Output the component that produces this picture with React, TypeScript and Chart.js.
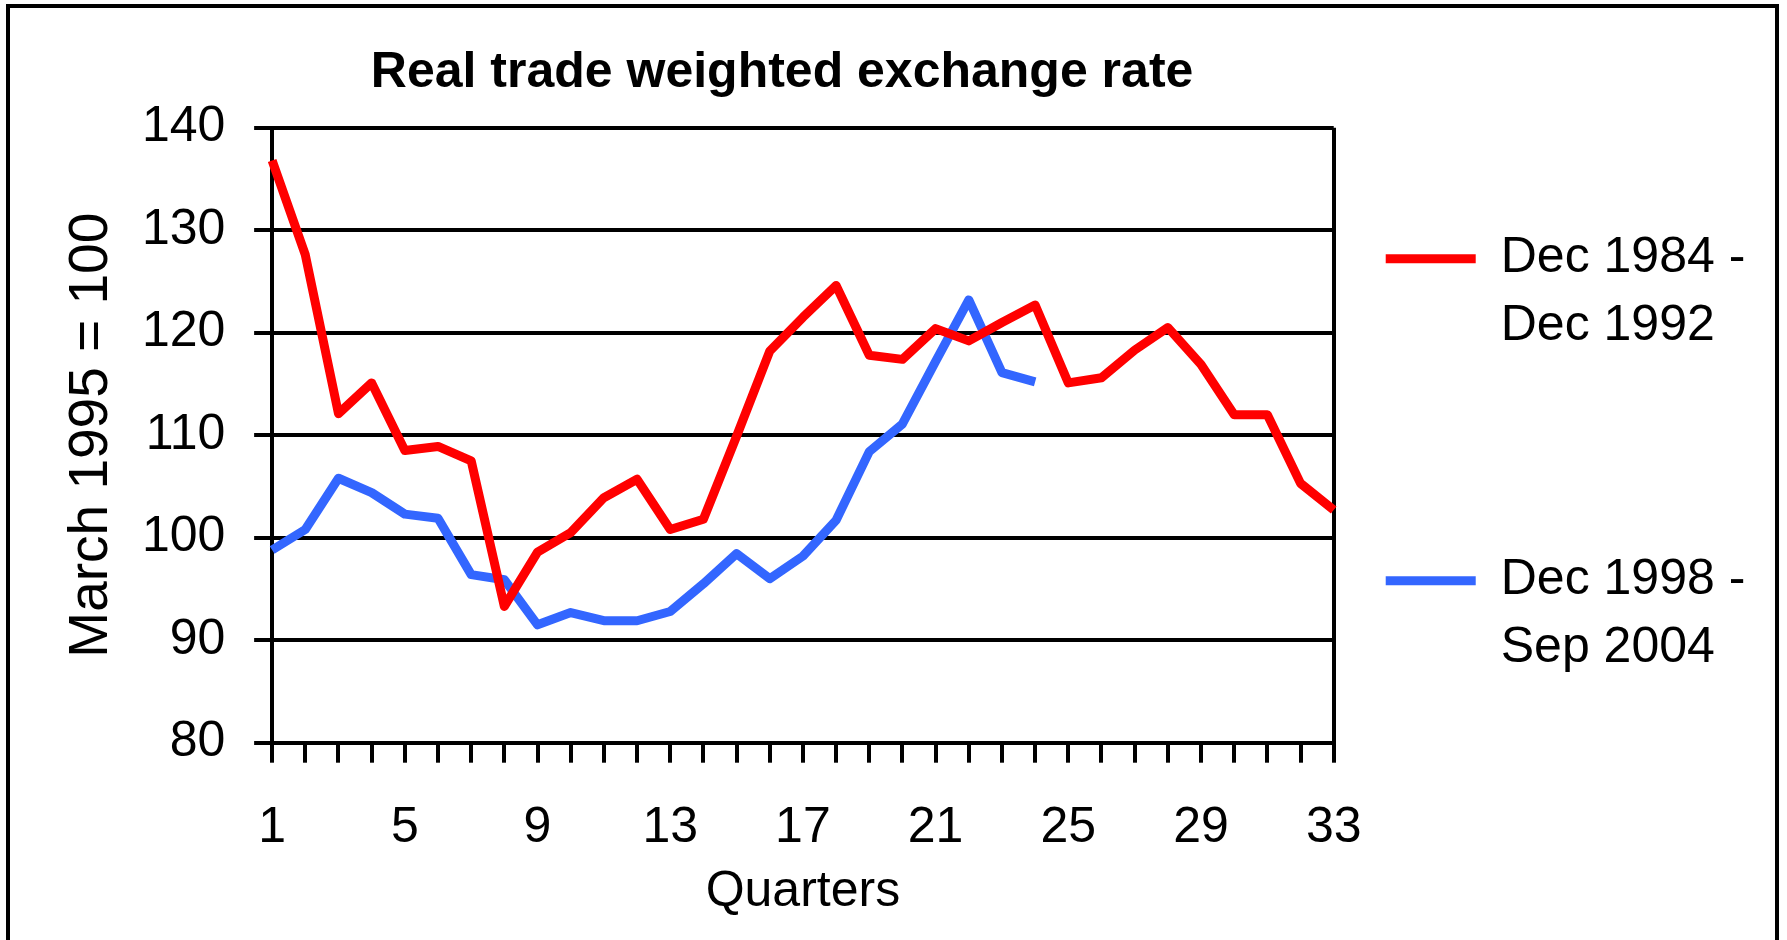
import React, { useEffect, useRef } from "react";
import { Chart, registerables } from "chart.js";

Chart.register(...registerables);

const titleText = "Real trade weighted exchange rate   ";
const yAxisTitle = "March 1995 = 100";
const xAxisTitle = "Quarters";

const quarters = [
  "1", "2", "3", "4", "5", "6", "7", "8", "9", "10", "11",
  "12", "13", "14", "15", "16", "17", "18", "19", "20", "21", "22",
  "23", "24", "25", "26", "27", "28", "29", "30", "31", "32", "33",
];
const shownQuarterLabels = ["1", "5", "9", "13", "17", "21", "25", "29", "33"];

const seriesAName = "Dec 1984 - Dec 1992";
const seriesALegend = ["Dec 1984 -", "Dec 1992", "", ""];
const seriesA = [
  136.8, 127.6, 112.1, 115.1, 108.5, 108.9, 107.5, 93.3, 98.6, 100.5, 103.9,
  105.7, 100.8, 101.8, 109.9, 118.2, 121.5, 124.6, 117.8, 117.4, 120.4, 119.2,
  121.0, 122.7, 115.1, 115.6, 118.3, 120.5, 116.9, 112.0, 112.0, 105.3, 102.7,
];

const seriesBName = "Dec 1998 - Sep 2004";
const seriesBLegend = ["Dec 1998 -", "Sep 2004"];
const seriesB = [
  98.8, 100.8, 105.8, 104.4, 102.3, 101.9, 96.4, 95.9, 91.5, 92.7, 91.9, 91.9,
  92.8, 95.5, 98.45, 96.0, 98.2, 101.7, 108.4, 111.1, 117.2, 123.2, 116.1, 115.2,
];

const yMin = 80;
const yMax = 140;
const yStep = 10;

const FONT = "'Liberation Sans', Arial, Helvetica, sans-serif";

export default function App() {
  const canvasRef = useRef<HTMLCanvasElement | null>(null);

  useEffect(() => {
    const canvas = canvasRef.current;
    if (!canvas) return;
    Chart.defaults.font.family = FONT;
    Chart.defaults.color = "#000";
    const legendTexts = [seriesALegend, seriesBLegend];
    const lastIndex = quarters.length - 1;

    const chart = new Chart(canvas, {
      type: "line",
      data: {
        labels: quarters,
        datasets: [
          {
            label: seriesAName,
            data: seriesA,
            borderColor: "#FF0000",
            backgroundColor: "#FF0000",
            borderWidth: 9,
            pointRadius: 0,
            pointHoverRadius: 0,
            tension: 0,
            fill: false,
            borderJoinStyle: "round",
          },
          {
            label: seriesBName,
            data: seriesB,
            borderColor: "#3366FF",
            backgroundColor: "#3366FF",
            borderWidth: 9,
            pointRadius: 0,
            pointHoverRadius: 0,
            tension: 0,
            fill: false,
            borderJoinStyle: "round",
          },
        ],
      },
      options: {
        responsive: false,
        animation: false,
        events: [],
        layout: { padding: { top: 0, left: 0, right: 19.7, bottom: 17.3 } },
        plugins: {
          tooltip: { enabled: false },
          title: {
            display: true,
            text: titleText,
            fullSize: false,
            color: "#000",
            font: { family: FONT, size: 50, weight: "bold", lineHeight: 1.2 },
            padding: { top: 35.5, bottom: 24.2 },
          },
          legend: {
            display: true,
            position: "right",
            align: "end",
            fullSize: false,
            labels: {
              usePointStyle: true,
              pointStyle: "line",
              pointStyleWidth: 90,
              boxHeight: 50,
              padding: 52,
              color: "#000",
              font: { family: FONT, size: 50, lineHeight: 1.35 },
              generateLabels: (c: any) => {
                const items = (Chart.defaults.plugins.legend.labels as any).generateLabels(c);
                return items.map((it: any, i: number) => ({
                  ...it,
                  text: legendTexts[i],
                  lineWidth: 9,
                  lineCap: "butt",
                }));
              },
            },
          },
        },
        scales: {
          x: {
            type: "category",
            offset: false,
            ticks: {
              autoSkip: false,
              maxRotation: 0,
              minRotation: 0,
              color: "#000",
              padding: 36,
              font: { family: FONT, size: 50 },
              callback: (_v: any, i: number) =>
                shownQuarterLabels.includes(quarters[i]) ? quarters[i] : "",
            },
            grid: {
              display: true,
              offset: false,
              drawOnChartArea: true,
              color: (ctx: any) => (ctx.index === lastIndex ? "#000" : "rgba(0,0,0,0)"),
              lineWidth: 4,
              drawTicks: true,
              tickLength: 20,
              tickColor: "#000",
              tickWidth: 4,
            },
            border: { display: true, color: "#000", width: 4 },
            title: {
              display: true,
              text: xAxisTitle,
              color: "#000",
              font: { family: FONT, size: 50, lineHeight: 1.2 },
              padding: { top: -32, bottom: 0 },
            },
          },
          y: {
            min: yMin,
            max: yMax,
            ticks: {
              stepSize: yStep,
              color: "#000",
              padding: 28.7,
              font: { family: FONT, size: 50 },
            },
            grid: {
              color: "#000",
              lineWidth: 4,
              drawTicks: true,
              tickLength: 18,
              tickColor: "#000",
              tickWidth: 4,
            },
            border: { display: true, color: "#000", width: 4 },
            title: {
              display: true,
              text: yAxisTitle,
              color: "#000",
              font: { family: FONT, size: 55, lineHeight: 1.2 },
              padding: { top: 49, bottom: -11.7 },
            },
          },
        },
      },
    } as any);

    return () => {
      chart.destroy();
    };
  }, []);

  return (
    <div
      style={{
        position: "fixed",
        left: 0,
        top: 0,
        width: "100vw",
        height: "100vh",
        overflow: "hidden",
        background: "#fff",
      }}
    >
      <div
        style={{
          position: "absolute",
          left: 6,
          top: 4,
          width: 1773,
          height: 1000,
          border: "4px solid #000",
          boxSizing: "border-box",
        }}
      />
      <canvas
        ref={canvasRef}
        width={1765}
        height={932}
        style={{ position: "absolute", left: 10, top: 8 }}
      />
    </div>
  );
}
